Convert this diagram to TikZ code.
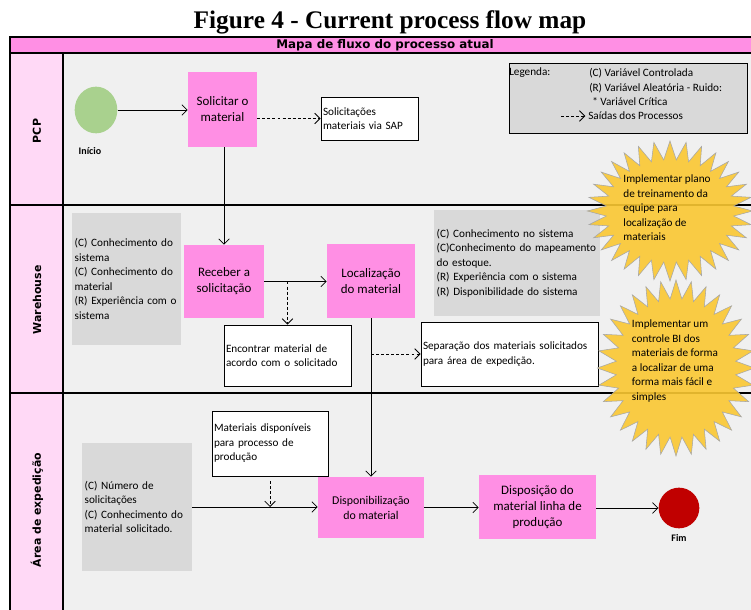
\documentclass[tikz,border=0pt]{standalone}
\usepackage{fontspec}
\setmainfont{Carlito}
\newfontfamily\lanefont{DejaVu Sans}
\newfontfamily\titlefont{Liberation Serif}
\usetikzlibrary{positioning, arrows.meta, shapes.symbols, shapes.geometric}

\definecolor{procpink}{RGB}{255,143,228}
\definecolor{lanepink}{RGB}{255,217,246}
\definecolor{panelgray}{RGB}{240,240,240}
\definecolor{notegray}{RGB}{217,217,217}
\definecolor{startgreen}{RGB}{169,209,142}
\definecolor{endred}{RGB}{192,0,0}
\definecolor{burstyellow}{RGB}{250,200,50}

\newcommand{\smalltxt}{\fontsize{8.4}{10.9}\selectfont}
\newcommand{\proctxt}{\fontsize{9.7}{12}\selectfont}

\begin{document}
\begin{tikzpicture}[x=0.75pt, y=-0.75pt, >={Straight Barb[length=4pt,width=8pt]}, font=\smalltxt]
    \tikzset{
        process/.style={fill=procpink, align=center, font=\proctxt, inner sep=1pt},
        output/.style={draw, fill=white, align=left, inner xsep=1.5pt, line width=0.6pt},
        factors/.style={fill=notegray, align=left, inner xsep=2pt},
        lane/.style={rotate=90, font=\lanefont\bfseries\fontsize{8.2}{10}\selectfont},
        laneline/.style={line width=0.9pt},
        flow/.style={->, line width=0.6pt},
        exit/.style={->, line width=0.6pt, dash pattern=on 2.2pt off 1.6pt},
        burst/.style={starburst, starburst points=32, starburst point height=14pt,
            random starburst=0, fill=burstyellow, fill opacity=0.9, draw=black!35, line width=0.4pt},
        bursttext/.style={align=left, inner sep=0pt}
    }

    % PAGE
    \clip (0,0) rectangle (751,610);
    \fill[white] (0,0) rectangle (751,610);
    \node[font=\titlefont\bfseries\fontsize{19}{22}\selectfont, anchor=base] (title) at (390,29) {Figure 4 - Current process flow map};

    % LANES
    \fill[panelgray] (63,53) rectangle (760,620);
    \fill[lanepink] (10,53) rectangle (63,620);
    \node[draw, fill=procpink, line width=0.9pt, minimum width=562.5pt, minimum height=12pt, inner sep=0pt,
        font=\lanefont\bfseries\fontsize{8.9}{10}\selectfont] (header) at (385,45) {Mapa de fluxo do processo atual};
    \draw[laneline] (10,53) -- (10,620) (63,53) -- (63,620);
    \draw[laneline] (10,205) -- (760,205) (10,393) -- (760,393);
    \node[lane] (pcpLabel) at (37,131) {PCP};
    \node[lane] (whLabel) at (37,300) {Warehouse};
    \node[lane] (expLabel) at (37,510) {Área de expedição};

    % LEGEND
    \node[draw, fill=notegray, line width=0.8pt, minimum width=179pt, minimum height=52pt] (legend) at (628.5,98.5) {};
    \node[anchor=west, inner sep=0pt] (legTitle) at (509,73) {Legenda:};
    \node[anchor=west, inner sep=0pt] (legC) at (589,73) {(C) Variável Controlada};
    \node[anchor=west, inner sep=0pt] (legR) at (589,88) {(R) Variável Aleatória - Ruido:};
    \node[anchor=west, inner sep=0pt] (legCrit) at (592,102) {* Variável Crítica};
    \node[anchor=west, inner sep=0pt] (legExit) at (588,116) {Saídas dos Processos};
    \coordinate (legA) at (561,116);
    \draw[exit, shorten >=2pt] (legA) -- (legExit.west);

    % PCP
    \node[ellipse, fill=startgreen, minimum width=32pt, minimum height=35pt, inner sep=0pt] (inicio) at (96,110) {};
    \node[font=\bfseries\fontsize{7.5}{9}\selectfont] (inicioText) at (90,151) {Início};
    \node[process, minimum width=51.75pt, minimum height=56.25pt] (solicitar) at (222.5,109.5) {Solicitar o\\material};
    \node[output, minimum width=72.75pt, minimum height=32.25pt, text width=69.75pt] (sap) at (369.5,118.5) {Solicitações\\materiais via SAP};

    % WAREHOUSE
    \node[factors, minimum width=81.75pt, minimum height=99pt, text width=77.75pt] (whFactors) at (126.5,279) {(C) Conhecimento do\\sistema\\(C) Conhecimento do\\material\\(R) Experiência com o\\sistema};
    \node[process, minimum width=60pt, minimum height=54.75pt] (receber) at (224,281.5) {Receber a\\solicitação};
    \node[process, minimum width=66pt, minimum height=55.5pt] (localizacao) at (371,281) {Localização\\do material};
    \node[output, minimum width=95.25pt, minimum height=45.75pt, text width=92.25pt] (encontrar) at (287.5,355.5) {Encontrar material de\\acordo com o solicitado};
    \node[factors, minimum width=124.5pt, minimum height=79.5pt, text width=120.5pt] (locFactors) at (517,263) {(C) Conhecimento no sistema\\(C)Conhecimento do mapeamento\\do estoque.\\(R) Experiência com o sistema\\(R) Disponibilidade do sistema};
    \node[output, minimum width=132.75pt, minimum height=48pt, text width=129.75pt] (separacao) at (509.5,354) {Separação dos materiais solicitados\\para área de expedição.};

    % EXPEDICAO
    \node[factors, minimum width=82.5pt, minimum height=96pt, text width=78.5pt] (expFactors) at (137,507) {(C) Número de\\solicitações\\(C) Conhecimento do\\material solicitado.};
    \node[output, minimum width=87pt, minimum height=48.75pt, text width=84pt] (disponiveis) at (270,443.5) {Materiais disponíveis\\para processo de\\produção};
    \node[process, minimum width=79.5pt, minimum height=45.75pt, font=\fontsize{8.9}{11.3}\selectfont] (disponibilizacao) at (371,507.5) {Disponibilização\\do material};
    \node[process, minimum width=87.75pt, minimum height=48pt] (disposicao) at (537.5,507) {Disposição do\\material linha de\\produção};
    \node[circle, fill=endred, minimum size=30.5pt, inner sep=0pt] (fim) at (679,508) {};
    \node[font=\bfseries\fontsize{7.5}{9}\selectfont] (fimText) at (679,538) {Fim};

    % TRANSITIONS
    \draw[flow] (inicio) -- (solicitar.west |- inicio);
    \draw[exit] (solicitar.east |- sap.west) -- (sap.west);
    \draw[flow] (solicitar.south -| receber.north) -- (receber.north);
    \draw[flow] (receber.east) -- (receber.east -| localizacao.west);
    \draw[exit] (encontrar.north |- receber.east) -- (encontrar.north);
    \draw[flow] (localizacao.south) -- (disponibilizacao.north);
    \draw[exit] (localizacao.south |- separacao.west) -- (separacao.west);
    \draw[flow] (expFactors.east) -- (expFactors.east -| disponibilizacao.west);
    \coordinate (dispDrop) at ([yshift=-3.5pt]disponiveis.south);
    \draw[exit] (dispDrop) -- (dispDrop |- expFactors.east);
    \draw[flow] (disponibilizacao.east) -- (disponibilizacao.east -| disposicao.west);
    \draw[flow] (disposicao.east |- fim.west) -- (fim.west);

    % IMPROVEMENTS
    \node[burst, minimum width=124pt, minimum height=105pt] (burstA) at (670,211) {};
    \node[bursttext] (burstAText) at (667,208) {Implementar plano\\de treinamento da\\equipe para\\localização de\\materiais};
    \node[burst, minimum width=118pt, minimum height=132pt] (burstB) at (676,368) {};
    \node[bursttext] (burstBText) at (675,361) {Implementar um\\controle BI dos\\materiais de forma\\a localizar de uma\\forma mais fácil e\\simples};
\end{tikzpicture}
\end{document}
